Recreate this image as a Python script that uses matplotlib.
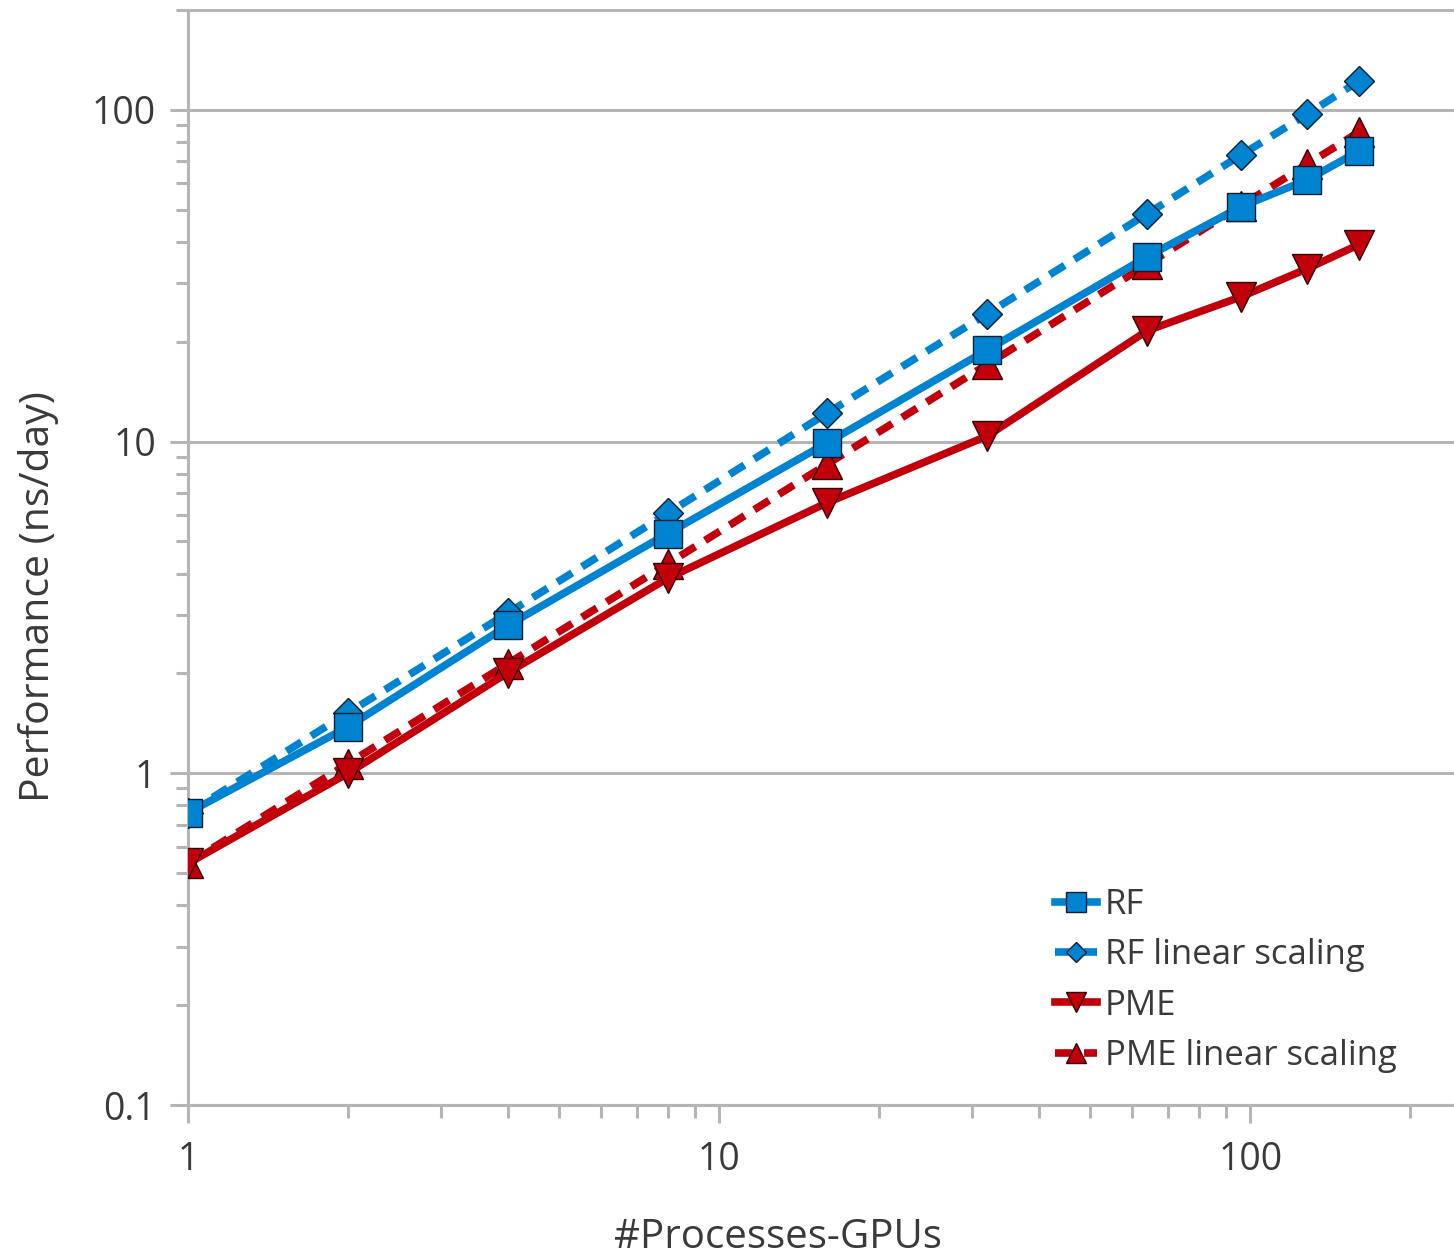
import numpy as np
import matplotlib
matplotlib.use("Agg")
import matplotlib.pyplot as plt
from matplotlib.ticker import LogLocator, NullFormatter, FixedLocator, FixedFormatter

plt.rcParams['font.family'] = ['Open Sans', 'DejaVu Sans']

# GPU counts and measured / ideal throughput (ns/day)
gpus = [1, 2, 4, 8, 16, 32, 64, 96, 128, 160]
rf = [0.76, 1.38, 2.79, 5.28, 9.93, 18.9, 36.1, 51.0, 61.5, 75.0]
rf_linear = [0.76, 1.52, 3.04, 6.08, 12.2, 24.3, 48.6, 73.0, 97.0, 122.0]
pme = [0.535, 1.0, 2.01, 3.87, 6.55, 10.4, 21.6, 27.3, 33.2, 39.2]
pme_linear = [0.535, 1.07, 2.14, 4.28, 8.56, 17.1, 34.2, 51.4, 68.5, 85.6]

xticks = [1, 10, 100]
xticklabels = ['1', '10', '100']
yticks = [0.1, 1, 10, 100]
yticklabels = ['0.1', '1', '10', '100']

blue = '#0084d1'
red = '#c2000b'
gray = '#b5b5b5'
txt = '#3a3a3a'

fig = plt.figure(figsize=(14.54, 12.56), dpi=100)
ax = fig.add_axes([188 / 1454, 1 - 1105 / 1256, 1 - 188 / 1454, (1105 - 10) / 1256])

lw = 5.5
dash = (2.3, 1.5)
ax.plot(gpus, pme_linear, color=red, lw=lw, dashes=dash, marker='^', ms=21,
        mfc=red, mec='#300000', mew=1.0, label='PME linear scaling', zorder=3)
ax.plot(gpus, pme, color=red, lw=lw, marker='v', ms=21,
        mfc=red, mec='#300000', mew=1.0, label='PME', zorder=4)
ax.plot(gpus, rf_linear, color=blue, lw=lw, dashes=dash, marker='D', ms=14.8,
        mfc=blue, mec='#0a2030', mew=1.0, label='RF linear scaling', zorder=5)
ax.plot(gpus, rf, color=blue, lw=lw, marker='s', ms=20,
        mfc=blue, mec='#0a2030', mew=1.0, label='RF', zorder=6)

ax.set_xscale('log')
ax.set_yscale('log')
ax.set_xlim(1, 242)
ax.set_ylim(0.1, 200)

ax.xaxis.set_major_locator(FixedLocator(xticks))
ax.xaxis.set_major_formatter(FixedFormatter(xticklabels))
ax.yaxis.set_major_locator(FixedLocator(yticks))
ax.yaxis.set_major_formatter(FixedFormatter(yticklabels))
ax.xaxis.set_minor_locator(LogLocator(base=10, subs=np.arange(2, 10)))
ax.yaxis.set_minor_locator(LogLocator(base=10, subs=np.arange(2, 10)))
ax.xaxis.set_minor_formatter(NullFormatter())
ax.yaxis.set_minor_formatter(NullFormatter())

ax.grid(True, which='major', axis='y', color=gray, lw=2.2, zorder=1)
ax.set_axisbelow(True)

for side in ['left', 'bottom', 'top']:
    ax.spines[side].set_color(gray)
    ax.spines[side].set_linewidth(2.2)
ax.spines['right'].set_visible(False)

ax.tick_params(which='major', direction='out', length=13, width=2.2, color=gray,
               labelsize=27, labelcolor=txt)
ax.tick_params(which='minor', direction='out', length=9, width=2.2, color=gray)
ax.tick_params(axis='x', which='major', pad=13)
ax.tick_params(axis='y', which='major', pad=10)

ax.set_xlabel('#Processes-GPUs', fontsize=29, color=txt)
ax.xaxis.set_label_coords(0.466, -0.103)
ax.set_ylabel('Performance (ns/day)', fontsize=29.5, color=txt)
ax.yaxis.set_label_coords(-0.102, 0.464)

handles, labels = ax.get_legend_handles_labels()
order = [3, 2, 1, 0]
ax.legend([handles[i] for i in order], [labels[i] for i in order],
          loc='upper left', bbox_to_anchor=(1055 / 1454, 1 - 888 / 1256),
          bbox_transform=fig.transFigure, frameon=False, fontsize=25,
          handlelength=1.21, handletextpad=0.23, labelspacing=0.47,
          borderpad=0, borderaxespad=0, markerscale=0.7, labelcolor=txt)

fig.savefig('out.png', dpi=100)
